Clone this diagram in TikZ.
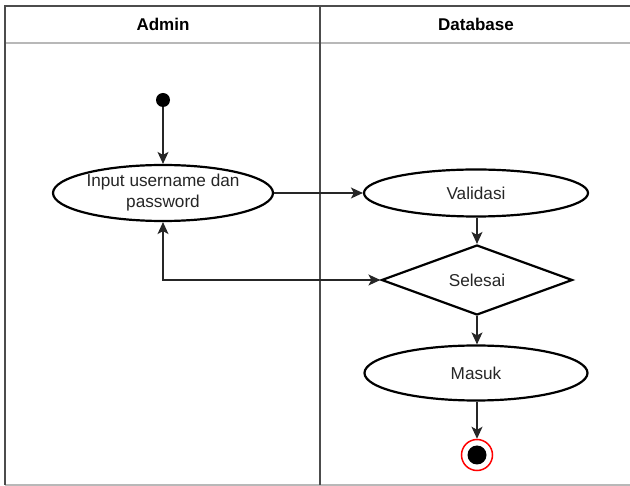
\documentclass[tikz,border=0pt]{standalone}
\usepackage{fontspec}
\setmainfont{Liberation Sans}
\usetikzlibrary{shapes.geometric,arrows.meta}
\tikzset{
  lane/.style={line width=1.8pt, draw=black!70},
  sepline/.style={line width=1.8pt, draw=black!28},
  head/.style={font=\fontsize{17}{20}\selectfont\bfseries, text=black},
  act/.style={ellipse, draw=black, line width=2.2pt, fill=white, inner sep=0pt},
  decide/.style={diamond, draw=black, line width=2.2pt, fill=white, inner sep=0pt},
  lbl/.style={font=\fontsize{17.2}{21}\selectfont, text=black!85, align=center},
  flow/.style={line width=1.3pt, draw=black!85, -{Stealth[length=12pt,width=11pt,inset=3pt]}},
  both/.style={line width=1.3pt, draw=black!85, {Stealth[length=12pt,width=11pt,inset=3pt]}-{Stealth[length=12pt,width=11pt,inset=3pt]}},
}
\begin{document}
\begin{tikzpicture}[x=1pt,y=-1pt]
  \useasboundingbox (0,0) rectangle (630,486);
  \fill[white] (0,0) rectangle (630,486);

  % swimlane frame
  \draw[sepline] (5,43) -- (630,43);
  \draw[sepline] (5,485) -- (630,485);
  \draw[lane] (5,485) -- (5,6) -- (630,6);
  \draw[lane] (320,6) -- (320,485);
  \node[head] (hadmin) at (163,24) {Admin};
  \node[head] (hdb) at (476,24) {Database};

  % start
  \node[circle, fill=black, minimum size=14pt, inner sep=0pt] (start) at (163,100) {};

  % activities
  \node[act, minimum width=220pt, minimum height=56pt] (input) at (163,193) {};
  \node[lbl] at (input) {Input username dan\\password};
  \node[act, minimum width=224pt, minimum height=47pt] (valid) at (476,193) {};
  \node[lbl] at (valid) {Validasi};
  \node[decide, minimum width=191pt, minimum height=70pt] (done) at (477,280) {};
  \node[lbl] at (done) {Selesai};
  \node[act, minimum width=223pt, minimum height=55pt] (masuk) at (476,373) {};
  \node[lbl] at (masuk) {Masuk};

  % end
  \node[circle, draw=red, line width=1.5pt, fill=white, minimum size=31pt, inner sep=0pt] (end) at (477,455) {};
  \node[circle, fill=black, minimum size=19pt, inner sep=0pt] at (end) {};

  % flows
  \draw[flow] (start) -- (input);
  \draw[flow] (input.east) -- (valid.west);
  \draw[flow] (valid.south -| done.north) -- (done.north);
  \draw[flow] (done.south) -- (done.south |- masuk.north);
  \draw[flow] (masuk.south -| end.north) -- (end.north);
  \draw[both] (input.south) |- (done.west);
\end{tikzpicture}
\end{document}
